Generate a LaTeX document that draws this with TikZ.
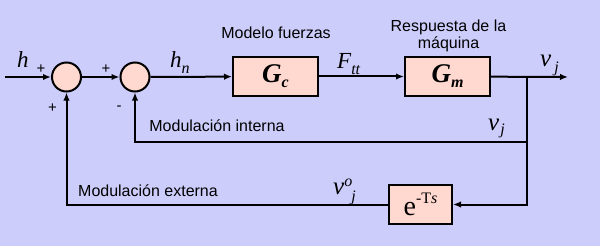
\documentclass[tikz,border=0pt]{standalone}
\usepackage{fontspec}
\setmainfont{Liberation Sans}
\newfontfamily\tms{Liberation Serif}
\usetikzlibrary{arrows.meta}
\definecolor{bgc}{RGB}{205,205,252}
\definecolor{blockfill}{RGB}{255,216,208}
\newcommand\lowr[2]{\raisebox{-#1}{\fontsize{16}{16}\selectfont #2}}
\newcommand\upr[2]{\raisebox{#1}{\fontsize{16}{16}\selectfont #2}}
\begin{document}
\begin{tikzpicture}[x=1pt,y=-1pt,
  arr/.style={line width=2pt,-{Latex[length=8pt,width=6.5pt]}},
  blk/.style={draw,line width=2pt,fill=blockfill,minimum width=85pt,minimum height=39pt,inner sep=0pt},
  sumj/.style={draw,circle,line width=2pt,fill=blockfill,minimum size=29pt,inner sep=0pt},
  lbl/.style={font=\fontsize{16}{17}\selectfont,inner sep=0pt},
  mth/.style={font=\tms\itshape\fontsize{23}{23}\selectfont,inner sep=0pt},
  sgn/.style={font=\fontsize{15}{15}\selectfont,inner sep=0pt}]
\fill[bgc] (0,0) rectangle (600,246);
\useasboundingbox (0,0) rectangle (600,246);

\node[sumj] (s1) at (66.5,77) {};
\node[sumj] (s2) at (135,77) {};
\node[blk] (gc) at (275.5,76.5) {\tms\bfseries\itshape\fontsize{27}{27}\selectfont G\lowr{5pt}{c}};
\node[blk] (gm) at (447.5,76.5) {\tms\bfseries\itshape\fontsize{27}{27}\selectfont G\lowr{5pt}{m}};
\node[blk,minimum width=63pt] (dl) at (420.5,204.5) {\tms\fontsize{28}{28}\selectfont e\raisebox{12pt}{\fontsize{16}{16}\selectfont -T\textit{s}}};

\coordinate (in) at (5,77);
\coordinate (out) at (568,77);
\coordinate (br) at (527,77);
\coordinate (brin) at (527,142);

\draw[arr] (in) -- (s1);
\draw[arr] (s1) -- (s2);
\draw[arr] (s2) -- (gc);
\draw[arr] (gc) -- (gm);
\draw[arr] (gm) -- (out);
\draw[arr] (br) -- (br |- dl) -- (dl);
\draw[arr] (brin) -- (s2 |- brin) -- (s2);
\draw[arr] (dl) -- (s1 |- dl) -- (s1);

% signs
\node[sgn] (p1) at (41,69) {+};
\node[sgn] (p2) at (106,69) {+};
\node[sgn] (p3) at (52.5,108.5) {+};
\node[sgn] (m1) at (119,108) {-};

% text labels
\node[lbl,anchor=base] (t1) at (276,39) {Modelo fuerzas};
\node[lbl,align=center] (t2) at (448.5,35.5) {Respuesta de la\\máquina};
\node[lbl,anchor=base] (t3) at (217,131) {Modulación interna};
\node[lbl,anchor=base] (t4) at (148,196) {Modulación externa};

% math labels
\node[mth,anchor=base west] (lh) at (17,67) {h};
\node[mth,anchor=base west] (lhn) at (170,67) {h\lowr{6pt}{n}};
\node[mth,anchor=base west] (lf) at (337,69) {F\lowr{6pt}{tt}};
\node[mth,anchor=base west,font=\tms\itshape\fontsize{25}{25}\selectfont] (lv1) at (540,66.5) {v\hspace{3pt}\lowr{6pt}{j}};
\node[mth,anchor=base west,font=\tms\itshape\fontsize{25}{25}\selectfont] (lv2) at (488,130) {v\hspace{1pt}\lowr{5pt}{j}};
\node[mth,anchor=base west,font=\tms\itshape\fontsize{25}{25}\selectfont] (lv3) at (333,194) {v\upr{8pt}{o}\hspace{-1pt}\lowr{7pt}{j}};
\end{tikzpicture}
\end{document}
